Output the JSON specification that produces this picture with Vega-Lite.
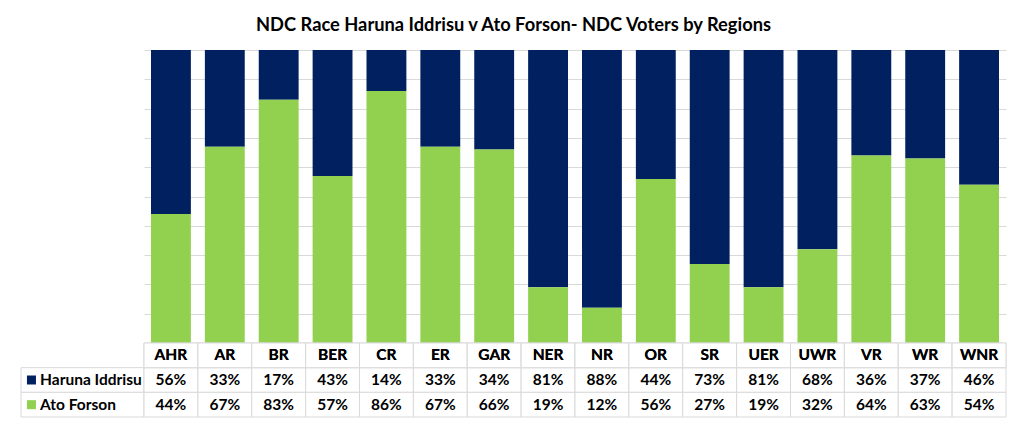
{
  "$schema": "https://vega.github.io/schema/vega-lite/v6.json",
  "padding": {"top": 15, "left": 20, "right": 10, "bottom": 5},
  "title": {
    "text": "NDC Race Haruna Iddrisu v Ato Forson- NDC Voters by Regions",
    "anchor": "middle",
    "font": "Lato",
    "fontSize": 18.3,
    "fontWeight": "bold",
    "color": "#000000",
    "offset": 15
  },
  "datasets": {
    "votes": [
      {"region": "AHR", "candidate": "Haruna Iddrisu", "share": 0.56},
      {"region": "AHR", "candidate": "Ato Forson", "share": 0.44},
      {"region": "AR", "candidate": "Haruna Iddrisu", "share": 0.33},
      {"region": "AR", "candidate": "Ato Forson", "share": 0.67},
      {"region": "BR", "candidate": "Haruna Iddrisu", "share": 0.17},
      {"region": "BR", "candidate": "Ato Forson", "share": 0.83},
      {"region": "BER", "candidate": "Haruna Iddrisu", "share": 0.43},
      {"region": "BER", "candidate": "Ato Forson", "share": 0.57},
      {"region": "CR", "candidate": "Haruna Iddrisu", "share": 0.14},
      {"region": "CR", "candidate": "Ato Forson", "share": 0.86},
      {"region": "ER", "candidate": "Haruna Iddrisu", "share": 0.33},
      {"region": "ER", "candidate": "Ato Forson", "share": 0.67},
      {"region": "GAR", "candidate": "Haruna Iddrisu", "share": 0.34},
      {"region": "GAR", "candidate": "Ato Forson", "share": 0.66},
      {"region": "NER", "candidate": "Haruna Iddrisu", "share": 0.81},
      {"region": "NER", "candidate": "Ato Forson", "share": 0.19},
      {"region": "NR", "candidate": "Haruna Iddrisu", "share": 0.88},
      {"region": "NR", "candidate": "Ato Forson", "share": 0.12},
      {"region": "OR", "candidate": "Haruna Iddrisu", "share": 0.44},
      {"region": "OR", "candidate": "Ato Forson", "share": 0.56},
      {"region": "SR", "candidate": "Haruna Iddrisu", "share": 0.73},
      {"region": "SR", "candidate": "Ato Forson", "share": 0.27},
      {"region": "UER", "candidate": "Haruna Iddrisu", "share": 0.81},
      {"region": "UER", "candidate": "Ato Forson", "share": 0.19},
      {"region": "UWR", "candidate": "Haruna Iddrisu", "share": 0.68},
      {"region": "UWR", "candidate": "Ato Forson", "share": 0.32},
      {"region": "VR", "candidate": "Haruna Iddrisu", "share": 0.36},
      {"region": "VR", "candidate": "Ato Forson", "share": 0.64},
      {"region": "WR", "candidate": "Haruna Iddrisu", "share": 0.37},
      {"region": "WR", "candidate": "Ato Forson", "share": 0.63},
      {"region": "WNR", "candidate": "Haruna Iddrisu", "share": 0.46},
      {"region": "WNR", "candidate": "Ato Forson", "share": 0.54}
    ],
    "series": [
      {"candidate": "Haruna Iddrisu"},
      {"candidate": "Ato Forson"}
    ]
  },
  "columns": 2,
  "spacing": 0,
  "bounds": "flush",
  "concat": [
    {
      "width": 123,
      "height": 293,
      "data": {"values": []},
      "mark": "point",
      "encoding": {}
    },
    {
      "width": 862,
      "height": 293,
      "data": {"name": "votes"},
      "mark": {"type": "bar"},
      "encoding": {
        "x": {
          "field": "region",
          "type": "nominal",
          "sort": null,
          "scale": {"paddingInner": 0.26, "paddingOuter": 0.13},
          "axis": null
        },
        "y": {
          "field": "share",
          "type": "quantitative",
          "stack": "zero",
          "scale": {"domain": [0, 1], "nice": false},
          "axis": {
            "values": [0, 0.1, 0.2, 0.3, 0.4, 0.5, 0.6, 0.7, 0.8, 0.9, 1],
            "labels": false,
            "ticks": false,
            "domain": false,
            "title": null,
            "grid": true,
            "gridColor": "#d9d9d9",
            "minExtent": 0,
            "maxExtent": 0
          }
        },
        "color": {
          "field": "candidate",
          "type": "nominal",
          "scale": {
            "domain": ["Haruna Iddrisu", "Ato Forson"],
            "range": ["#002060", "#92d050"]
          },
          "legend": null
        },
        "order": {"field": "candidate", "sort": "ascending"}
      }
    },
    {
      "width": 123,
      "height": 74,
      "data": {"name": "series"},
      "encoding": {
        "y": {
          "field": "candidate",
          "type": "nominal",
          "scale": {
            "domain": ["hdr", "Haruna Iddrisu", "Ato Forson"],
            "paddingInner": 0,
            "paddingOuter": 0
          },
          "axis": null
        }
      },
      "layer": [
        {
          "mark": {"type": "rect", "fill": "#ffffff", "stroke": "#d9d9d9", "strokeWidth": 1}
        },
        {
          "mark": {"type": "point", "shape": "square", "filled": true, "size": 81, "opacity": 1},
          "encoding": {
            "x": {"datum": 0.085, "type": "quantitative", "scale": {"domain": [0, 1]}, "axis": null},
            "color": {"field": "candidate", "type": "nominal", "legend": null}
          }
        },
        {
          "mark": {"type": "text", "align": "left", "font": "Lato", "fontSize": 15.5, "fontWeight": "bold", "color": "#000000"},
          "encoding": {
            "x": {"datum": 0.155, "type": "quantitative", "scale": {"domain": [0, 1]}, "axis": null},
            "text": {"field": "candidate"}
          }
        }
      ]
    },
    {
      "width": 862,
      "height": 74,
      "data": {"name": "votes"},
      "encoding": {
        "x": {
          "field": "region",
          "type": "nominal",
          "sort": null,
          "scale": {"paddingInner": 0, "paddingOuter": 0},
          "axis": null
        }
      },
      "layer": [
        {
          "mark": {"type": "rect", "fill": "#ffffff", "stroke": "#d9d9d9", "strokeWidth": 1},
          "encoding": {
            "y": {
              "field": "candidate",
              "type": "nominal",
              "scale": {
                "domain": ["hdr", "Haruna Iddrisu", "Ato Forson"],
                "paddingInner": 0,
                "paddingOuter": 0
              },
              "axis": null
            }
          }
        },
        {
          "mark": {"type": "rect", "fill": "#ffffff", "stroke": "#d9d9d9", "strokeWidth": 1},
          "encoding": {"y": {"datum": "hdr", "type": "nominal"}}
        },
        {
          "mark": {"type": "text", "font": "Lato", "fontSize": 15.5, "fontWeight": "bold", "color": "#000000"},
          "encoding": {
            "y": {"datum": "hdr", "type": "nominal"},
            "text": {"field": "region"}
          }
        },
        {
          "mark": {"type": "text", "font": "Lato", "fontSize": 15.5, "fontWeight": "bold", "color": "#000000"},
          "encoding": {
            "y": {"field": "candidate", "type": "nominal"},
            "text": {"field": "share", "format": ".0%"}
          }
        }
      ]
    }
  ],
  "config": {
    "view": {"stroke": null},
    "background": "#ffffff"
  }
}
